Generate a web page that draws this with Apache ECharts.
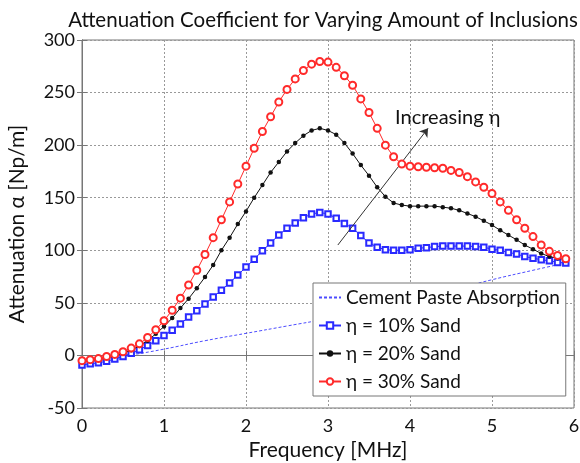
<!DOCTYPE html>
<html><head><meta charset="utf-8">
<script src="https://cdn.jsdelivr.net/npm/echarts@6/dist/echarts.min.js"></script>
<style>html,body{margin:0;padding:0;background:#fff}#c{width:580px;height:463px}</style>
</head><body><div id="c"></div>
<script>
const freq = [0,0.1,0.2,0.3,0.4,0.5,0.6,0.7,0.8,0.9,1.0,1.1,1.2,1.3,1.4,1.5,1.6,1.7,1.8,1.9,2.0,2.1,2.2,2.3,2.4,2.5,2.6,2.7,2.8,2.9,3.0,3.1,3.2,3.3,3.4,3.5,3.6,3.7,3.8,3.9,4.0,4.1,4.2,4.3,4.4,4.5,4.6,4.7,4.8,4.9,5.0,5.1,5.2,5.3,5.4,5.5,5.6,5.7,5.8,5.9];
const sand10 = [-9,-8,-7,-5.5,-3.5,-1,2,5.5,9.5,14,19,24,30,36.5,42.5,49,55.5,62,69,76.5,84,91.5,99.5,107,114.5,121,126,131,134.5,136,134.5,130.5,125.5,121,114,107,103,100.5,100,100,100.5,102,102.5,103.5,104,104,104,104,103.5,103,101,100,98,96.5,94,92.5,91,90,88.5,88];
const sand20 = [-6,-5,-4,-2.5,-0.5,2,5,9,14,20.5,27.5,35.5,45,54,64,74.5,86,100,112,125,137,150,162,174,184,194,202,209,214,216,214,210,202,192,181,171,160,151,145,143,142,142,142,142,141,140,138,135,132,128,124,119,114.5,110,105,101,97,94,92.5,91];
const sand30 = [-5,-4,-3,-1,1,3.5,7,11,17,24.5,33,43,54.5,67,81,96,112,129,146,163,180,197,213,227,241,253,263,271,277,279.5,279,274,266,257,244,231,216,200,189,182,180,179.5,179,178.5,178,176,174,170,165,160,154,146,138,129,121,113,105,99,95,92];
const pasteFreq = [0,0.5,1,1.5,2,2.5,3,3.5,4,4.5,5,5.5,5.9];
const pasteVals = [-8,-1,6,14,21,28,35,43,52,62,72,81,88];
const names = ['Cement Paste Absorption','\u03b7 = 10% Sand','\u03b7 = 20% Sand','\u03b7 = 30% Sand'];
const xTicks = [0,1,2,3,4,5,6];
const yTicks = [-50,0,50,100,150,200,250,300];
const arrowStart = [3.12, 105];
const arrowEnd = [4.22, 216];
const arrowText = 'Increasing \u03b7';
const arrowTextPos = [4.46, 226];

const pair = (xs, ys) => xs.map((x, i) => [x, ys[i]]);
const FONT = 'Lato';
const chart = echarts.init(document.getElementById('c'), null, {renderer: 'canvas'});
const axisCommon = {
  axisLine: {show: true, lineStyle: {color: '#777', width: 1}},
  axisTick: {show: true, inside: true, length: 5, lineStyle: {color: '#777'}},
};
chart.setOption({
  animation: false,
  backgroundColor: '#fff',
  title: {
    text: 'Attenuation Coefficient for Varying Amount of Inclusions',
    left: 318, top: 5, textAlign: 'center',
    textStyle: {fontFamily: FONT, fontSize: 20.5, fontWeight: 'normal', color: '#111'}
  },
  grid: {left: 82, right: 6, top: 40, bottom: 55, show: true, borderColor: '#777', borderWidth: 1,
         containLabel: false, outerBoundsMode: 'none'},
  xAxis: [{
    type: 'value', min: xTicks[0], max: xTicks[xTicks.length - 1], interval: 1,
    name: 'Frequency [MHz]', nameLocation: 'middle', nameGap: 31,
    nameTextStyle: {fontFamily: FONT, fontSize: 21, color: '#111'},
    axisLabel: {fontFamily: FONT, fontSize: 18, color: '#111', margin: 9},
    splitLine: {show: true, lineStyle: {color: '#999', type: [2, 2], width: 1}},
    ...axisCommon
  }, {
    type: 'value', position: 'top', min: xTicks[0], max: xTicks[xTicks.length - 1], interval: 1,
    axisLabel: {show: false}, splitLine: {show: false}, ...axisCommon
  }],
  yAxis: [{
    type: 'value', min: yTicks[0], max: yTicks[yTicks.length - 1], interval: 50,
    name: 'Attenuation \u03b1 [Np/m]', nameLocation: 'middle', nameGap: 54,
    nameTextStyle: {fontFamily: FONT, fontSize: 21, color: '#111'},
    axisLabel: {fontFamily: FONT, fontSize: 18, color: '#111', margin: 7},
    splitLine: {show: true, lineStyle: {color: '#999', type: [2, 2], width: 1}},
    ...axisCommon
  }, {
    type: 'value', position: 'right', min: yTicks[0], max: yTicks[yTicks.length - 1], interval: 50,
    axisLabel: {show: false}, splitLine: {show: false}, ...axisCommon
  }],
  legend: {
    orient: 'vertical', left: 313, top: 283,
    backgroundColor: '#fff', borderColor: '#777', borderWidth: 1,
    padding: [5, 6, 5, 5], itemGap: 9, itemWidth: 22, itemHeight: 8,
    textStyle: {fontFamily: FONT, fontSize: 19, color: '#111'},
    data: [
      {name: names[0], itemStyle: {color: 'rgba(0,0,0,0)', borderColor: 'rgba(0,0,0,0)', opacity: 0}},
      names[1], names[2], names[3]
    ]
  },
  series: [{
    name: names[0], type: 'line', data: pair(pasteFreq, pasteVals),
    symbol: 'none', smooth: true,
    lineStyle: {color: '#4d4dff', width: 1, type: [3, 2]},
    itemStyle: {color: '#4d4dff'}, z: 2
  }, {
    name: names[1], type: 'line', data: pair(freq, sand10),
    symbol: 'emptyRect', symbolSize: 5.5,
    lineStyle: {color: '#2a2aff', width: 1},
    itemStyle: {color: '#2a2aff', borderColor: '#2a2aff', borderWidth: 1}, z: 3
  }, {
    name: names[2], type: 'line', data: pair(freq, sand20),
    symbol: 'circle', symbolSize: 4.5,
    lineStyle: {color: '#111', width: 1},
    itemStyle: {color: '#111'}, z: 4
  }, {
    name: names[3], type: 'line', data: pair(freq, sand30),
    symbol: 'emptyCircle', symbolSize: 7,
    lineStyle: {color: '#ff2a2a', width: 1},
    itemStyle: {color: '#ff2a2a', borderColor: '#ff2a2a', borderWidth: 1}, z: 5,
    markLine: {
      silent: true, symbol: ['none', 'arrow'], symbolSize: 8,
      lineStyle: {color: '#333', width: 1, type: 'solid'},
      label: {show: false},
      data: [[{coord: arrowStart}, {coord: arrowEnd}]]
    },
    markPoint: {
      silent: true, symbol: 'rect', symbolSize: 0,
      label: {show: true, formatter: arrowText, fontFamily: FONT, fontSize: 20, color: '#111', position: 'inside'},
      data: [{coord: arrowTextPos}]
    }
  }]
});
</script>
</body></html>
